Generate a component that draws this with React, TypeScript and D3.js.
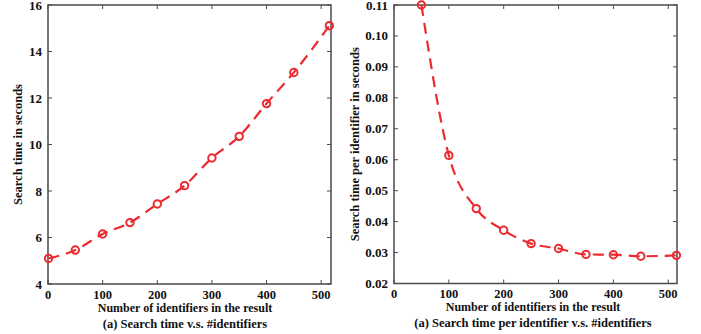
import React from "react";
import * as d3 from "d3";

const xValues = [1, 50, 100, 150, 200, 250, 300, 350, 400, 450, 515];
const totalTime = [5.1, 5.46, 6.15, 6.64, 7.44, 8.23, 9.42, 10.35, 11.76, 13.1, 15.11];
const perIdX = [50, 100, 150, 200, 250, 300, 350, 400, 450, 515];
const perIdTime = [0.11, 0.0614, 0.0442, 0.0372, 0.0329, 0.0313, 0.0294, 0.0293, 0.0288, 0.0291];
const xTicks = [0, 100, 200, 300, 400, 500];
const leftYTicks = [4, 6, 8, 10, 12, 14, 16];
const rightYTicks = [0.02, 0.03, 0.04, 0.05, 0.06, 0.07, 0.08, 0.09, 0.1, 0.11];

const RED = "#ec2a30";
const AX = "#4a4a4a";
const FONT = "'Liberation Serif', 'Times New Roman', serif";

type PanelProps = {
  left: number;
  right: number;
  top: number;
  bottom: number;
  xMax: number;
  yDomain: [number, number];
  yTicks: number[];
  yFmt: (v: number) => string;
  xs: number[];
  ys: number[];
  yLabel: string;
  caption: string;
  yLabelX: number;
  labelCx: number;
};

function Panel(p: PanelProps) {
  const x = d3.scaleLinear().domain([0, p.xMax]).range([p.left, p.right]);
  const y = d3.scaleLinear().domain(p.yDomain).range([p.bottom, p.top]);
  const pts = p.xs.map((v, i) => [x(v), y(p.ys[i])] as [number, number]);
  const line = d3.line().curve(d3.curveMonotoneX)(pts) || "";
  const tk = 4;
  const cy = (p.top + p.bottom) / 2;
  return (
    <g>
      <rect x={p.left} y={p.top} width={p.right - p.left} height={p.bottom - p.top} fill="none" stroke={AX} strokeWidth={1.5} />
      {xTicks.map((t) => (
        <g key={"x" + t}>
          <line x1={x(t)} x2={x(t)} y1={p.bottom} y2={p.bottom - tk} stroke={AX} strokeWidth={1} />
          <line x1={x(t)} x2={x(t)} y1={p.top} y2={p.top + tk} stroke={AX} strokeWidth={1} />
          <text x={x(t)} y={p.bottom + 14.5} textAnchor="middle" fontFamily={FONT} fontWeight="bold" fontSize={12.5} fill="#111">{t}</text>
        </g>
      ))}
      {p.yTicks.map((t) => (
        <g key={"y" + t}>
          <line x1={p.left} x2={p.left + tk} y1={y(t)} y2={y(t)} stroke={AX} strokeWidth={1} />
          <line x1={p.right} x2={p.right - tk} y1={y(t)} y2={y(t)} stroke={AX} strokeWidth={1} />
          <text x={p.left - 6} y={y(t) + 4.5} textAnchor="end" fontFamily={FONT} fontWeight="bold" fontSize={13} fill="#111">{p.yFmt(t)}</text>
        </g>
      ))}
      <path d={line} fill="none" stroke={RED} strokeWidth={2.2} strokeDasharray="11,7" />
      {pts.map((pt, i) => (
        <circle key={i} cx={pt[0]} cy={pt[1]} r={3.7} fill="none" stroke={RED} strokeWidth={2} />
      ))}
      <text x={p.labelCx} y={p.bottom + 27.5} textAnchor="middle" fontFamily={FONT} fontWeight="bold" fontSize={12} fill="#111">Number of identifiers in the result</text>
      <text x={p.labelCx} y={p.bottom + 43.5} textAnchor="middle" fontFamily={FONT} fontWeight="bold" fontSize={12.5} fill="#111">{p.caption}</text>
      <text transform={`translate(${p.yLabelX},${cy}) rotate(-90)`} textAnchor="middle" fontFamily={FONT} fontWeight="bold" fontSize={12.5} fill="#111">{p.yLabel}</text>
    </g>
  );
}

export default function App() {
  return (
    <svg width={701} height={334} style={{ position: "absolute", left: 0, top: 0, background: "#fff" }}>
      <Panel
        left={48}
        right={331}
        top={5}
        bottom={284}
        xMax={518}
        yDomain={[4, 16]}
        yTicks={leftYTicks}
        yFmt={(v) => String(v)}
        xs={xValues}
        ys={totalTime}
        yLabel="Search time in seconds"
        caption="(a) Search time v.s. #identifiers"
        yLabelX={22}
        labelCx={185}
      />
      <Panel
        left={394}
        right={677}
        top={5}
        bottom={283.5}
        xMax={516}
        yDomain={[0.02, 0.11]}
        yTicks={rightYTicks}
        yFmt={(v) => v.toFixed(2)}
        xs={perIdX}
        ys={perIdTime}
        yLabel="Search time per identifier in seconds"
        caption="(a) Search time per identifier v.s. #identifiers"
        yLabelX={359}
        labelCx={533}
      />
    </svg>
  );
}
